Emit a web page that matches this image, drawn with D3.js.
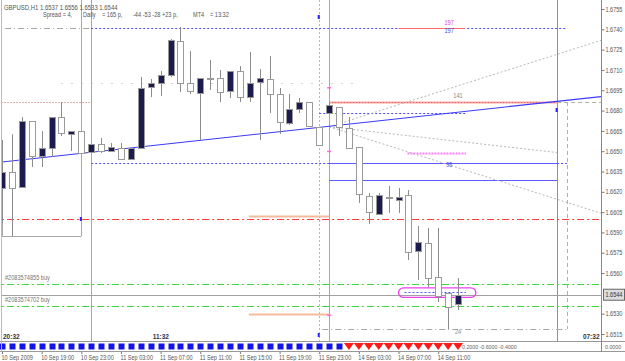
<!DOCTYPE html>
<html lang="en">
<head>
<meta charset="utf-8">
<title>GBPUSD,H1</title>
<script src="https://cdn.jsdelivr.net/npm/d3@7"></script>
<style>
  body { margin: 0; background: #fff; }
  text { font-family: "Liberation Sans", Arial, sans-serif; }
</style>
</head>
<body>
<script>
//****************************************************************************//
// Data (bar index 0 = 10 Sep 2009 15:00, one bar per hour)

var opens  = [1.6623,1.6635,1.6623,1.6672,1.6646,1.6652,1.6675,1.6663,1.6665,1.6649,
              1.6655,1.6650,1.6652,1.6644,1.6653,1.6697,1.6700,1.6706,1.6731,1.6700,
              1.6693,1.6703,1.6704,1.6694,1.6709,1.6690,1.6701,1.6703,1.6692,1.6671,
              1.6681,1.6686,1.6668,1.6678,1.6683,1.6667,1.6653,1.6617,1.6604,1.6616,
              1.6614,1.6618,1.6576,1.6582,1.6557,1.6545,1.6537];
var highs  = [1.6658,1.6662,1.6675,1.6672,1.6665,1.6675,1.6686,1.6665,1.6665,1.6655,
              1.6660,1.6656,1.6656,1.6652,1.6705,1.6703,1.6709,1.6733,1.6742,1.6724,
              1.6704,1.6717,1.6710,1.6709,1.6713,1.6723,1.6711,1.6720,1.6697,1.6692,
              1.6689,1.6686,1.6668,1.6686,1.6683,1.6675,1.6653,1.6619,1.6619,1.6624,
              1.6623,1.6621,1.6595,1.6593,1.6593,1.6545,1.6556];
var lows   = [1.6597,1.6587,1.6623,1.6638,1.6638,1.6646,1.6661,1.6650,1.6649,1.6649,
              1.6649,1.6650,1.6644,1.6644,1.6653,1.6690,1.6691,1.6705,1.6694,1.6692,
              1.6658,1.6695,1.6686,1.6689,1.6686,1.6686,1.6658,1.6678,1.6663,1.6669,
              1.6678,1.6668,1.6655,1.6678,1.6661,1.6652,1.6612,1.6596,1.6604,1.6604,
              1.6604,1.6570,1.6555,1.6550,1.6539,1.6519,1.6533];
var closes = [1.6635,1.6623,1.6672,1.6646,1.6652,1.6675,1.6663,1.6665,1.6649,1.6655,
              1.6650,1.6653,1.6644,1.6652,1.6697,1.6700,1.6706,1.6732,1.6700,1.6694,
              1.6704,1.6704,1.6694,1.6709,1.6690,1.6700,1.6704,1.6692,1.6671,1.6681,
              1.6686,1.6668,1.6655,1.6684,1.6668,1.6652,1.6618,1.6605,1.6618,1.6615,
              1.6616,1.6576,1.6583,1.6556,1.6543,1.6535,1.6544];

// lower strip signal per bar: 1 = blue box, -1 = red arrow
var signals = [1,1,1,1,1,1,1,1,1,1,1,1,1,1,1,1,1,1,1,1,1,1,1,1,1,1,1,1,1,1,1,1,1,1,1,
               -1,-1,-1,-1,-1,-1,-1,-1,-1,-1,-1,-1];

var timeTickBars   = [0, 4, 8, 12, 16, 20, 24, 28, 32, 36, 40, 44];
var timeTickLabels = ["10 Sep 2009","10 Sep 19:00","10 Sep 23:00","11 Sep 03:00","11 Sep 07:00",
                      "11 Sep 11:00","11 Sep 15:00","11 Sep 19:00","11 Sep 23:00","14 Sep 03:00",
                      "14 Sep 07:00","14 Sep 11:00"];

var priceTicks = [1.6755,1.6740,1.6725,1.6710,1.6695,1.6680,1.6665,1.6650,1.6635,1.6620,
                  1.6605,1.6590,1.6575,1.6560,1.6530,1.6515];
var bid = 1.6544;

// horizontal objects: price, from bar, to bar, style key
var hPrices = [1.6741, 1.6741, 1.6741, 1.6700, 1.6686, 1.6686, 1.6686, 1.6678, 1.6641, 1.6641, 1.6641,
               1.6629, 1.6649, 1.6600, 1.6602, 1.6587, 1.6552, 1.6536, 1.6530, 1.6519, 1.6546];
var hFrom   = [-1, 9, 40, 6, -1, 33, 56, 32, 9, 33, 56, 33, 40.9, -1, 24.9, 0, -1, -1, 24.9, 32.3, 40.6];
var hTo     = [9, 57, 46.7, 36, 9, 56, 61, 46.8, 33, 56, 57, 56, 46.8, 61, 33, 8, 61, 61, 33, 57, 46.8];
var hStyle  = ["grayDashDot","blueDot","red","sparse","pinkDot","salmon","grayDash","blueDot","blueDot","blue","blueDot",
               "blue","magentaDot","redDashDot","orange","gray","greenDashDot","greenDashDot","orange","grayDashDot","blueDot"];

// vertical objects: bar, top price, bottom price (null = full height), style
var vBars   = [0, 1, 8, 9, 32, 33, 56, 57];
var vTop    = [1.6658, 1.6663, null, null, null, null, null, 1.6686];
var vBottom = [1.6587, 1.6587, 1.6587, null, null, null, null, 1.6519];
var vStyle  = ["gray","gray","gray","gray","grayDot","gray","slate","grayDash"];

// trend line and fan (bar, price)
var trendLine = [[0, 1.6642], [61, 1.66908]];
var fanOrigin = [33, 1.6668];
var fanEnds   = [[60.5, 1.6732], [56, 1.6649], [60.5, 1.6604]];

var styles = {
  grayDashDot:  {c: "#a8a8a8", w: 1, d: "6,3,1,3"},
  grayDash:     {c: "#b0b0b0", w: 1, d: "4,3"},
  grayDot:      {c: "#b8b8b8", w: 1, d: "2,2"},
  gray:         {c: "#a8a8a8", w: 1, d: null},
  slate:        {c: "#8c8cb0", w: 1, d: null},
  blue:         {c: "#5c5cff", w: 1, d: null},
  blueDot:      {c: "#4c4cff", w: 1, d: "2,2"},
  red:          {c: "#ff6a6a", w: 1, d: null},
  salmon:       {c: "#f7a4a4", w: 2, d: null},
  sparse:       {c: "#c09a9a", w: 1, d: "1,9"},
  pinkDot:      {c: "#dcb0b0", w: 1, d: "2,1"},
  magentaDot:   {c: "#ff80ff", w: 2, d: "2,1"},
  redDashDot:   {c: "#ff3a3a", w: 1, d: "7,3,2,3"},
  greenDashDot: {c: "#3ad83a", w: 1, d: "7,3,2,3"},
  orange:       {c: "#f6bc9c", w: 2, d: null}
};

//****************************************************************************//
// Canvas and scales

var width = 625, height = 361;
var plotRight = 601, plotBottom = 341;

var svg = d3.select("body").append("svg")
    .attr("width", width)
    .attr("height", height)
    .style("display", "block");

svg.append("rect").attr("width", width).attr("height", height).attr("fill", "#fff");

var x = d3.scaleLinear().domain([0, 46]).range([2, 458]);
var y = d3.scaleLinear().domain([1.6515, 1.6755]).range([334, 9]);

svg.append("defs").append("clipPath").attr("id", "plot")
   .append("rect").attr("x", 1).attr("y", 0).attr("width", plotRight - 1).attr("height", plotBottom);

var plot = svg.append("g").attr("clip-path", "url(#plot)");

function styled(sel, key) {
  var s = styles[key];
  sel.attr("stroke", s.c).attr("stroke-width", s.w).attr("fill", "none");
  if (s.d) sel.attr("stroke-dasharray", s.d);
  return sel;
}

// squeeze text horizontally, the terminal font is narrower than Arial
function narrow(sel, k) {
  sel.each(function() {
    var n = this.getComputedTextLength();
    d3.select(this).attr("textLength", n * k).attr("lengthAdjust", "spacingAndGlyphs");
  });
  return sel;
}

//****************************************************************************//
// Objects behind candles

vBars.forEach(function(b, k) {
  var line = plot.append("line")
      .attr("x1", Math.round(x(b)) + 0.5).attr("x2", Math.round(x(b)) + 0.5)
      .attr("y1", vTop[k] == null ? 0 : Math.round(y(vTop[k])))
      .attr("y2", vBottom[k] == null ? plotBottom : Math.round(y(vBottom[k])));
  styled(line, vStyle[k]);
});

hPrices.forEach(function(p, k) {
  var line = plot.append("line")
      .attr("x1", x(hFrom[k])).attr("x2", x(hTo[k]))
      .attr("y1", Math.round(y(p)) + 0.5).attr("y2", Math.round(y(p)) + 0.5);
  styled(line, hStyle[k]);
});

// red dots over salmon level
styled(plot.append("line")
   .attr("x1", x(33)).attr("x2", x(56))
   .attr("y1", Math.round(y(1.6686)) + 0.5).attr("y2", Math.round(y(1.6686)) + 0.5), "red")
   .attr("stroke-dasharray", "1,2").attr("stroke", "#ee5555");

// bid line
plot.append("line").attr("x1", 0).attr("x2", plotRight)
    .attr("y1", Math.round(y(bid)) + 0.5).attr("y2", Math.round(y(bid)) + 0.5)
    .attr("stroke", "#a0a0a0");

// fan
fanEnds.forEach(function(e) {
  styled(plot.append("line")
     .attr("x1", x(fanOrigin[0])).attr("y1", y(fanOrigin[1]))
     .attr("x2", x(e[0])).attr("y2", y(e[1])), "grayDot");
});

// trend line
plot.append("line")
    .attr("x1", x(trendLine[0][0])).attr("y1", y(trendLine[0][1]))
    .attr("x2", x(trendLine[1][0])).attr("y2", y(trendLine[1][1]))
    .attr("stroke", "#3a3aff").attr("stroke-width", 1.2);

// order ellipse
plot.append("rect")
    .attr("x", x(40)).attr("y", y(1.6549))
    .attr("width", x(47.8) - x(40)).attr("height", y(1.6542) - y(1.6549))
    .attr("rx", 5).attr("fill", "none").attr("stroke", "#ee40ee").attr("stroke-width", 1.3);

//****************************************************************************//
// Candles

var bars = d3.range(opens.length);
var candles = plot.selectAll(".candle").data(bars).enter().append("g");

candles.append("line")
    .attr("x1", function(i) { return Math.round(x(i)) + 0.5; })
    .attr("x2", function(i) { return Math.round(x(i)) + 0.5; })
    .attr("y1", function(i) { return Math.round(y(highs[i])); })
    .attr("y2", function(i) { return Math.round(y(lows[i])); })
    .attr("stroke", "#8c8c8c");

candles.append("rect")
    .attr("x", function(i) { return Math.round(x(i)) - 2.5; })
    .attr("y", function(i) { return Math.round(y(Math.max(opens[i], closes[i]))) + 0.5; })
    .attr("width", 6)
    .attr("height", function(i) { return Math.max(1, Math.round(Math.abs(y(opens[i]) - y(closes[i])))); })
    .attr("fill", function(i) { return closes[i] > opens[i] ? "#1b1b4d" : "#fff"; })
    .attr("stroke", "#9a9a9a");

//****************************************************************************//
// Labels inside plot

function label(txt, bx, p, color, anchor) {
  return narrow(plot.append("text").attr("x", x(bx)).attr("y", y(p))
      .attr("font-size", 6.6).attr("fill", color).attr("text-anchor", anchor || "middle").text(txt), 0.85);
}
label("197", 45.1, 1.6743, "#e040e0");
label("197", 45.1, 1.6737, "#4444dd");
label("141", 46, 1.6689, "#888");
label("98",  45.1, 1.6638, "#5555ee");
label("24",  46, 1.6515, "#888");
label("#2083574855 buy", 0.3, 1.6555, "#777", "start");
label("#2083574702 buy", 0.3, 1.6539, "#777", "start");

[["20:32", 0.1], ["11:32", 15.2], ["07:32", 58.6]].forEach(function(t) {
  svg.append("text").attr("x", x(t[1])).attr("y", 339)
     .attr("font-family", "DejaVu Sans Mono").attr("font-weight", "bold")
     .attr("font-size", 6.5).attr("fill", "#334").text(t[0]);
});

// markers
[[32, 17], [32, 335], [56, 110], [8, 219]].forEach(function(m) {
  svg.append("rect").attr("x", x(m[0]) - 1.5).attr("y", m[1] - 2).attr("width", 2).attr("height", 4).attr("fill", "#2222ff");
});
[1.6697, 1.6650, 1.6529].forEach(function(p) {
  svg.append("rect").attr("x", x(33) - 2).attr("y", y(p) - 0.5).attr("width", 4).attr("height", 1.5).attr("fill", "#ff66dd");
});

//****************************************************************************//
// Header

narrow(svg.append("text").attr("x", 4).attr("y", 10).attr("font-size", 6.6).attr("fill", "#555")
   .text("GBPUSD,H1  1.6537  1.6556  1.6533  1.6544"), 0.9);
var head2 = [["Spread = 4,", 43], ["Daily", 83], ["= 165 p,", 102], ["-44 -53 -28 +23 p,", 133], ["MT4", 193], ["= 13:32", 210]];
head2.forEach(function(h) {
  narrow(svg.append("text").attr("x", h[1]).attr("y", 16.5).attr("font-size", 6.6).attr("fill", "#555").text(h[0]), 0.85);
});

//****************************************************************************//
// Lower strip

svg.append("line").attr("x1", 0).attr("x2", width).attr("y1", 341.5).attr("y2", 341.5).attr("stroke", "#999");
svg.append("line").attr("x1", 0).attr("x2", width).attr("y1", 351.5).attr("y2", 351.5).attr("stroke", "#999");

var strip = svg.append("g");
strip.selectAll("rect.sig").data(bars.filter(function(i) { return signals[i] > 0; })).enter()
    .append("rect").attr("x", function(i) { return Math.round(x(i)) - 2.5; }).attr("y", 343.5)
    .attr("width", 6).attr("height", 6).attr("fill", "#1414e8");
strip.selectAll("path.sig").data(bars.filter(function(i) { return signals[i] < 0; })).enter()
    .append("path")
    .attr("d", function(i) { var c = x(i); return "M" + (c - 5) + ",343 L" + (c + 5) + ",343 L" + c + ",350 Z"; })
    .attr("fill", "#ff1a1a");
narrow(svg.append("text").attr("x", 462).attr("y", 349).attr("font-size", 6.2).attr("fill", "#666")
   .text("0.2000 -0.6000 -0.4000"), 0.85);
narrow(svg.append("text").attr("x", 605).attr("y", 349).attr("font-size", 6.2).attr("fill", "#666")
   .text("0.0000"), 0.85);

//****************************************************************************//
// Axes

svg.append("line").attr("x1", plotRight + 0.5).attr("x2", plotRight + 0.5)
   .attr("y1", 0).attr("y2", 352).attr("stroke", "#888");
svg.append("line").attr("x1", 1.5).attr("x2", 1.5).attr("y1", 0).attr("y2", 352).attr("stroke", "#bbb");

var yAxis = d3.axisRight(y).tickValues(priceTicks).tickSize(3).tickFormat(d3.format(".4f"));
svg.append("g").attr("transform", "translate(" + (plotRight + 0.5) + ",0)").call(yAxis)
   .call(function(g) {
     g.select(".domain").remove();
     g.selectAll("line").attr("stroke", "#777");
     narrow(g.selectAll("text").attr("font-size", 6.6).attr("fill", "#555").attr("x", 4)
       .attr("font-family", "Liberation Sans"), 0.84);
   });

// bid box
svg.append("rect").attr("x", 603.5).attr("y", y(bid) - 5.5).attr("width", 21).attr("height", 11)
   .attr("fill", "#ddd").attr("stroke", "#666");
narrow(svg.append("text").attr("x", 605.5).attr("y", y(bid) + 2.5).attr("font-size", 6.6).attr("fill", "#333")
   .text(bid.toFixed(4)), 0.84);

var xAxis = d3.axisBottom(x).tickValues(timeTickBars).tickSize(2).tickFormat(function(d, k) { return timeTickLabels[k]; });
svg.append("g").attr("transform", "translate(0,352)").call(xAxis)
   .call(function(g) {
     g.select(".domain").remove();
     g.selectAll("line").attr("stroke", "#777");
     narrow(g.selectAll("text").attr("font-size", 6.6).attr("fill", "#555").attr("text-anchor", "start")
      .attr("dx", -1).attr("y", 3).attr("dy", "0.71em").attr("font-family", "Liberation Sans"), 0.84);
   });
</script>
</body>
</html>
